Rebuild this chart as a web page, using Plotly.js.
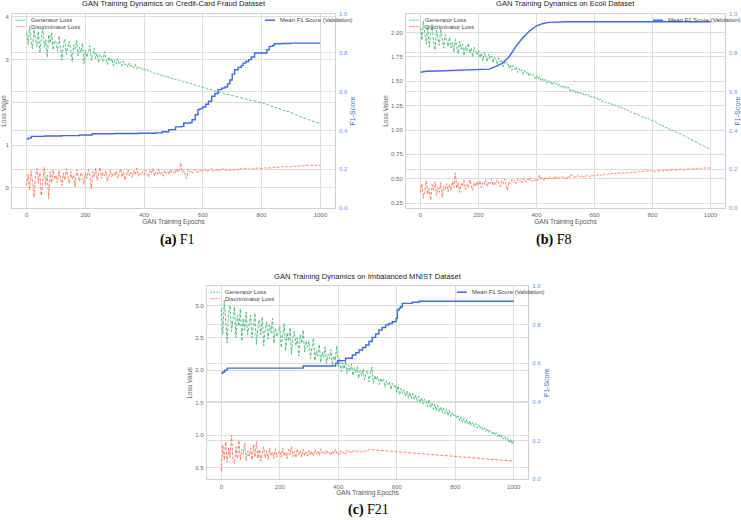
<!DOCTYPE html>
<html>
<head>
<meta charset="utf-8">
<script src="https://cdn.plot.ly/plotly-3.0.1.min.js"></script>
<style>html,body{margin:0;padding:0;background:#fff;}#chart{width:741px;height:520px;}</style>
</head>
<body>
<div id="chart"></div>
<script>
// ---------------- DATA ----------------
const epochStep = 5; // loss values are listed every 5 epochs starting at epoch 0
const xTicks = [0, 200, 400, 600, 800, 1000];

// (a) Credit-Card Fraud
const ccGenLoss = [
3.62,3.35,3.78,3.41,3.25,3.70,3.48,3.30,3.66,3.15,3.52,3.74,3.28,3.46,3.05,3.58,3.38,3.62,3.22,3.44,
3.40,3.18,3.55,3.26,2.98,3.36,3.48,3.12,3.30,3.42,3.20,2.95,3.34,3.25,3.45,3.08,3.28,3.16,3.38,2.90,
3.22,3.05,3.18,3.32,2.98,3.10,3.26,3.02,3.14,2.92,3.12,3.05,2.96,3.18,3.00,2.88,3.06,2.95,3.02,2.85,
2.98,2.90,3.02,2.88,2.94,2.85,2.96,2.87,2.90,2.82,2.92,2.84,2.86,2.80,2.88,2.78,2.84,2.79,2.82,2.75,
2.79,2.74,2.77,2.72,2.74,2.70,2.71,2.66,2.69,2.65,2.66,2.62,2.64,2.60,2.62,2.58,2.60,2.56,2.58,2.55,
2.56,2.53,2.54,2.51,2.52,2.49,2.50,2.47,2.48,2.45,2.46,2.43,2.44,2.41,2.42,2.39,2.40,2.37,2.38,2.35,
2.35,2.33,2.34,2.31,2.31,2.29,2.29,2.27,2.27,2.25,2.25,2.23,2.23,2.21,2.21,2.19,2.19,2.18,2.18,2.16,
2.16,2.15,2.14,2.13,2.13,2.11,2.11,2.09,2.09,2.07,2.07,2.06,2.05,2.04,2.04,2.02,2.02,2.01,2.00,1.99,
1.99,1.97,1.97,1.94,1.95,1.92,1.92,1.90,1.90,1.87,1.88,1.85,1.85,1.83,1.83,1.80,1.81,1.78,1.79,1.77,
1.76,1.74,1.73,1.71,1.70,1.68,1.67,1.65,1.64,1.63,1.62,1.60,1.59,1.58,1.57,1.55,1.54,1.53,1.52,1.51,1.50
];
const ccDiscLoss = [
0.05,0.32,-0.05,0.40,0.15,-0.22,0.28,0.45,0.10,0.35,-0.18,0.22,0.48,0.05,0.30,-0.25,0.38,0.12,0.42,0.20,
0.30,0.12,0.40,0.22,0.05,0.35,0.18,0.45,0.25,0.10,0.38,0.20,0.30,0.02,0.42,0.24,0.15,0.36,0.28,0.08,
0.35,0.22,0.42,0.30,-0.03,0.38,0.25,0.45,0.18,0.33,0.48,0.22,0.36,0.28,0.40,0.15,0.32,0.42,0.26,0.35,
0.28,0.40,0.22,0.35,0.45,0.25,0.38,0.18,0.32,0.42,0.28,0.36,0.24,0.40,0.31,0.46,0.27,0.35,0.30,0.38,
0.30,0.42,0.33,0.25,0.40,0.35,0.45,0.28,0.38,0.32,0.44,0.30,0.36,0.27,0.41,0.34,0.39,0.31,0.43,0.35,
0.38,0.33,0.45,0.36,0.42,0.58,0.35,0.40,0.30,0.22,0.44,0.37,0.41,0.34,0.39,0.43,0.36,0.41,0.38,0.44,
0.39,0.44,0.41,0.37,0.43,0.40,0.45,0.38,0.42,0.40,0.44,0.39,0.43,0.41,0.45,0.40,0.42,0.44,0.41,0.43,
0.43,0.41,0.45,0.43,0.42,0.46,0.44,0.43,0.45,0.44,0.46,0.43,0.45,0.47,0.44,0.46,0.45,0.47,0.45,0.46,
0.46,0.45,0.47,0.46,0.48,0.46,0.47,0.48,0.47,0.49,0.47,0.48,0.49,0.48,0.50,0.48,0.49,0.50,0.49,0.51,
0.49,0.50,0.51,0.50,0.52,0.50,0.51,0.53,0.51,0.52,0.51,0.53,0.52,0.51,0.53,0.52,0.54,0.52,0.53,0.52,0.53
];
const ccF1Epochs = [0,5,16,60,120,180,221,224,300,380,440,462,484,507,529,535,557,563,574,583,590,599,610,619,630,641,652,664,675,684,692,700,708,720,731,737,746,756,765,776,815,818,826,837,843,870,899,1000];
const ccF1Scores = [0.356,0.360,0.369,0.371,0.373,0.376,0.378,0.383,0.384,0.385,0.387,0.393,0.404,0.418,0.421,0.438,0.440,0.455,0.481,0.507,0.512,0.521,0.535,0.550,0.576,0.590,0.610,0.618,0.624,0.640,0.660,0.690,0.713,0.725,0.734,0.747,0.755,0.765,0.778,0.799,0.799,0.816,0.833,0.838,0.847,0.848,0.850,0.850];

// (b) Ecoli
const ecGenLoss = [
2.05,1.92,2.12,1.96,1.88,2.06,1.85,1.99,2.08,1.90,1.82,2.02,1.94,1.87,2.04,1.91,1.84,1.98,1.93,1.86,
1.95,1.84,1.90,1.80,1.93,1.86,1.78,1.91,1.83,1.88,1.76,1.86,1.81,1.89,1.79,1.84,1.75,1.85,1.80,1.77,
1.82,1.74,1.79,1.71,1.80,1.75,1.70,1.78,1.73,1.76,1.69,1.75,1.72,1.67,1.74,1.70,1.72,1.65,1.70,1.68,
1.70,1.63,1.67,1.61,1.66,1.62,1.65,1.59,1.63,1.60,1.62,1.57,1.61,1.58,1.60,1.55,1.58,1.56,1.57,1.53,
1.56,1.52,1.55,1.51,1.53,1.50,1.52,1.48,1.51,1.49,1.50,1.46,1.49,1.47,1.48,1.45,1.47,1.44,1.46,1.43,
1.45,1.42,1.44,1.40,1.42,1.40,1.41,1.38,1.40,1.37,1.39,1.37,1.38,1.35,1.37,1.35,1.36,1.33,1.35,1.33,
1.34,1.32,1.33,1.30,1.32,1.29,1.30,1.28,1.29,1.27,1.28,1.26,1.27,1.25,1.26,1.24,1.25,1.23,1.24,1.22,
1.23,1.21,1.22,1.20,1.20,1.18,1.19,1.17,1.17,1.16,1.16,1.15,1.15,1.13,1.14,1.12,1.13,1.11,1.12,1.10,
1.10,1.09,1.09,1.07,1.07,1.05,1.06,1.04,1.04,1.02,1.03,1.01,1.01,0.99,1.00,0.98,0.98,0.97,0.97,0.96,
0.96,0.95,0.94,0.93,0.93,0.91,0.91,0.90,0.89,0.88,0.88,0.87,0.86,0.85,0.85,0.84,0.83,0.82,0.82,0.81,0.80
];
const ecDiscLoss = [
0.36,0.45,0.30,0.42,0.48,0.34,0.40,0.28,0.44,0.38,0.47,0.33,0.41,0.36,0.46,0.31,0.43,0.39,0.45,0.37,
0.44,0.38,0.47,0.41,0.56,0.40,0.46,0.36,0.45,0.42,0.48,0.39,0.44,0.41,0.49,0.43,0.38,0.46,0.42,0.47,
0.43,0.48,0.41,0.46,0.44,0.49,0.42,0.47,0.45,0.50,0.43,0.47,0.44,0.49,0.46,0.42,0.48,0.45,0.50,0.44,
0.38,0.47,0.45,0.49,0.46,0.48,0.45,0.50,0.47,0.49,0.46,0.51,0.48,0.47,0.50,0.48,0.51,0.47,0.49,0.48,
0.50,0.48,0.54,0.49,0.51,0.48,0.52,0.50,0.49,0.52,0.50,0.51,0.49,0.53,0.50,0.52,0.50,0.51,0.53,0.50,
0.52,0.50,0.53,0.51,0.54,0.52,0.51,0.53,0.52,0.54,0.52,0.53,0.51,0.53,0.52,0.54,0.53,0.52,0.54,0.53,
0.53,0.54,0.53,0.55,0.54,0.53,0.55,0.54,0.55,0.54,0.55,0.54,0.56,0.55,0.55,0.56,0.55,0.56,0.55,0.56,
0.56,0.55,0.56,0.56,0.57,0.56,0.57,0.56,0.57,0.57,0.57,0.58,0.57,0.58,0.57,0.58,0.58,0.58,0.58,0.59,
0.57,0.58,0.57,0.58,0.58,0.58,0.58,0.58,0.59,0.58,0.59,0.58,0.59,0.59,0.59,0.59,0.59,0.59,0.59,0.60,
0.59,0.60,0.59,0.60,0.60,0.60,0.60,0.60,0.60,0.60,0.61,0.60,0.61,0.60,0.61,0.61,0.61,0.61,0.61,0.61,0.61
];
const ecF1Epochs = [0,5,20,60,100,120,200,237,260,283,306,329,352,374,397,420,443,470,511,1000];
const ecF1Scores = [0.700,0.702,0.705,0.706,0.708,0.712,0.713,0.716,0.730,0.747,0.780,0.833,0.876,0.910,0.936,0.950,0.957,0.959,0.960,0.960];

// (c) Imbalanced MNIST
const mnGenLoss = [
2.95,2.55,3.08,2.70,2.42,2.88,3.00,2.60,2.78,2.98,2.50,2.85,2.68,2.95,2.45,2.80,2.62,2.90,2.55,2.72,
2.85,2.50,2.70,2.88,2.40,2.66,2.78,2.55,2.82,2.38,2.62,2.75,2.48,2.70,2.58,2.80,2.42,2.65,2.52,2.60,
2.68,2.35,2.55,2.72,2.30,2.58,2.45,2.66,2.25,2.52,2.60,2.38,2.50,2.22,2.55,2.42,2.62,2.28,2.45,2.36,
2.45,2.18,2.35,2.50,2.15,2.30,2.22,2.40,2.12,2.28,2.20,2.36,2.10,2.25,2.18,2.32,2.08,2.22,2.15,2.38,
2.05,2.18,1.98,2.12,2.02,2.15,1.95,2.08,1.99,2.10,1.92,2.04,1.96,2.06,1.88,2.00,1.92,2.02,1.85,1.96,
2.00,1.82,1.95,2.05,1.80,1.92,1.85,1.90,1.78,1.88,1.82,1.86,1.74,1.84,1.78,1.82,1.70,1.80,1.74,1.78,
1.66,1.76,1.62,1.72,1.64,1.70,1.60,1.68,1.58,1.66,1.56,1.64,1.55,1.62,1.52,1.60,1.50,1.58,1.48,1.56,
1.52,1.44,1.55,1.42,1.50,1.40,1.48,1.38,1.46,1.36,1.44,1.35,1.42,1.33,1.40,1.30,1.38,1.28,1.35,1.30,
1.32,1.26,1.30,1.22,1.28,1.20,1.26,1.18,1.24,1.16,1.22,1.15,1.20,1.13,1.18,1.11,1.16,1.10,1.14,1.08,
1.12,1.06,1.10,1.04,1.08,1.02,1.06,1.00,1.04,0.98,1.02,0.96,1.00,0.94,0.98,0.92,0.96,0.88,0.94,0.86,0.92
];
const mnDiscLoss = [ // epochs 0..505
0.45,0.85,0.62,0.90,0.58,0.80,0.66,1.00,0.60,0.56,0.82,0.64,0.92,0.62,0.78,0.70,0.88,0.60,0.76,0.68,
0.80,0.62,0.85,0.66,0.90,0.64,0.78,0.60,0.74,0.82,0.65,0.76,0.62,0.80,0.68,0.74,0.64,0.79,0.66,0.73,
0.76,0.66,0.80,0.68,0.74,0.64,0.78,0.70,0.82,0.67,0.75,0.65,0.79,0.70,0.76,0.66,0.78,0.69,0.74,0.68,
0.77,0.69,0.75,0.68,0.78,0.71,0.76,0.69,0.79,0.72,0.75,0.70,0.77,0.72,0.74,0.69,0.76,0.71,0.78,0.72,
0.74,0.70,0.76,0.72,0.75,0.71,0.77,0.73,0.75,0.72,0.76,0.74,0.77,0.73,0.76,0.74,0.75,0.73,0.76,0.75,
0.76,0.78
];
const mnDiscTailEpochs = [1000];
const mnDiscTailValues = [0.60];
const mnF1Epochs = [0,5,12,20,280,391,398,425,448,460,471,483,494,505,516,528,539,550,562,573,585,598,602,608,613,619,653,676,1000];
const mnF1Scores = [0.548,0.555,0.565,0.575,0.586,0.600,0.614,0.626,0.643,0.655,0.669,0.682,0.695,0.713,0.734,0.752,0.772,0.785,0.798,0.806,0.815,0.833,0.876,0.885,0.893,0.910,0.916,0.921,0.921];

const titles = [
  'GAN Training Dynamics on Credit-Card Fraud Dataset',
  'GAN Training Dynamics on Ecoli Dataset',
  'GAN Training Dynamics on Imbalanced MNIST Dataset'
];
const captions = [['(a)', 'F1'], ['(b)', 'F8'], ['(c)', 'F21']];
const genName = 'Generator Loss', discName = 'Discriminator Loss', f1Name = 'Mean F1 Score (Validation)';

// ---------------- STYLE / LAYOUT ----------------
const W = 741, H = 520;
const px = v => v / W, py = v => 1 - v / H;
const GEN = 'rgba(60,179,113,0.85)', DISC = 'rgba(255,99,71,0.8)', F1C = '#4169e1';
const FONT = 'Liberation Sans, Arial, sans-serif';
const GRID = '#dcdcdc', FRAME = '#d0d0d0';
const LOSS_DASH = '3px,1.6px';

// panel boxes in page pixels: [left, right, top, bottom]
const boxes = [[12, 335, 14, 208], [406, 725, 14, 208], [206.7, 528.3, 286, 479.3]];
const lossRanges = [[-0.47, 4.06], [0.20, 2.19], [0.32, 3.30]];
const lossDticks = [1, 0.25, 0.5];
const lossFormats = ['d', '.2f', '.1f'];
const captionPos = [[177, 240], [553, 240], [368, 510]];

const idx = arr => arr.map((_, i) => i * epochStep);

const traces = [];
function addPanel(k, gen, disc, discExtraX, discExtraY, f1x, f1y, f1shape) {
  const xa = k === 0 ? 'x' : 'x' + (k + 1);
  const yl = k === 0 ? 'y' : 'y' + (2 * k + 1);
  const yr = 'y' + (2 * k + 2);
  traces.push({x: idx(gen), y: gen, xaxis: xa, yaxis: yl, mode: 'lines', name: genName,
    line: {color: GEN, width: 1, dash: LOSS_DASH}, showlegend: false, hoverinfo: 'skip'});
  traces.push({x: idx(disc).concat(discExtraX), y: disc.concat(discExtraY), xaxis: xa, yaxis: yl, mode: 'lines', name: discName,
    line: {color: DISC, width: 1, dash: LOSS_DASH}, showlegend: false, hoverinfo: 'skip'});
  traces.push({x: f1x, y: f1y, xaxis: xa, yaxis: yr, mode: 'lines', name: f1Name,
    line: {color: F1C, width: 1.4, shape: f1shape}, showlegend: false, hoverinfo: 'skip'});
}
addPanel(0, ccGenLoss, ccDiscLoss, [], [], ccF1Epochs, ccF1Scores, 'hv');
addPanel(1, ecGenLoss, ecDiscLoss, [], [], ecF1Epochs, ecF1Scores, 'linear');
addPanel(2, mnGenLoss, mnDiscLoss, mnDiscTailEpochs, mnDiscTailValues, mnF1Epochs, mnF1Scores, 'hv');

const layout = {
  width: W, height: H, margin: {l: 0, r: 0, t: 0, b: 0},
  paper_bgcolor: '#fff', plot_bgcolor: '#fff',
  font: {family: FONT, size: 6, color: '#555'},
  showlegend: false, shapes: [], annotations: []
};

boxes.forEach((b, k) => {
  const [L, R, T, B] = b;
  const xn = k === 0 ? 'xaxis' : 'xaxis' + (k + 1);
  const ylN = k === 0 ? 'yaxis' : 'yaxis' + (2 * k + 1);
  const yrN = 'yaxis' + (2 * k + 2);
  const xId = k === 0 ? 'x' : 'x' + (k + 1);
  const ylId = k === 0 ? 'y' : 'y' + (2 * k + 1);
  layout[xn] = {
    domain: [px(L), px(R)], anchor: ylId, range: [-50, 1050],
    tickmode: 'array', tickvals: xTicks, ticks: '', showgrid: true, gridcolor: GRID, gridwidth: 1,
    zeroline: false, showline: true, linecolor: FRAME, linewidth: 1, mirror: true,
    tickfont: {size: 6, color: '#666'}, ticklabelstandoff: 1,
    title: {text: 'GAN Training Epochs', font: {size: 6.5, color: '#555'}, standoff: 1}
  };
  layout[ylN] = {
    domain: [py(B), py(T)], anchor: xId, range: lossRanges[k], dtick: lossDticks[k], tick0: 0,
    tickformat: lossFormats[k], ticks: '', showgrid: true, gridcolor: GRID, zeroline: false,
    showline: true, linecolor: FRAME, linewidth: 1, mirror: true,
    tickfont: {size: 6, color: '#666'}, ticklabelstandoff: 1,
    title: {text: 'Loss Value', font: {size: 6.5, color: '#666'}, standoff: 1}
  };
  layout[yrN] = {
    overlaying: ylId, side: 'right', anchor: xId, range: [0, 1], dtick: 0.2, tick0: 0,
    tickformat: '.1f', ticks: '', showgrid: true, gridcolor: GRID, zeroline: false,
    showline: false, tickfont: {size: 6, color: '#6d8ef0'}, ticklabelstandoff: 3,
    title: {text: 'F1-Score', font: {size: 7, color: F1C}, standoff: 3}
  };
  // subplot title
  layout.annotations.push({xref: 'paper', yref: 'paper', x: px((L + R) / 2), y: py(T - 10),
    xanchor: 'center', yanchor: 'middle', showarrow: false, text: titles[k],
    font: {family: FONT, size: 7.6, color: '#222'}});
  // legends (drawn manually for compact matplotlib-like spacing)
  const leg = (x0, y, color, dash, width, label) => {
    layout.shapes.push({type: 'line', xref: 'paper', yref: 'paper', x0: px(x0), x1: px(x0 + 10),
      y0: py(y), y1: py(y), line: {color, width, dash}});
    layout.annotations.push({xref: 'paper', yref: 'paper', x: px(x0 + 13), y: py(y), xanchor: 'left',
      yanchor: 'middle', showarrow: false, text: label, font: {family: FONT, size: 6, color: '#444'}});
  };
  leg(L + 3.5, T + 6.2, GEN, '2px,1px', 1, genName);
  leg(L + 3.5, T + 12.6, DISC, '2px,1px', 1, discName);
  const rx = R - (k === 2 ? 71.5 : k === 1 ? 72 : 70);
  leg(rx, T + 6.2, F1C, 'solid', 1.5, f1Name);
  // captions
  const [cx, cy] = captionPos[k];
  layout.annotations.push({xref: 'paper', yref: 'paper', x: px(cx), y: py(cy), xanchor: 'center',
    yanchor: 'middle', showarrow: false, text: '<b>' + captions[k][0] + '</b> ' + captions[k][1],
    font: {family: 'Liberation Serif, Times New Roman, serif', size: 14, color: '#000'}});
});

Plotly.newPlot('chart', traces, layout, {staticPlot: true, displayModeBar: false});
</script>
</body>
</html>
